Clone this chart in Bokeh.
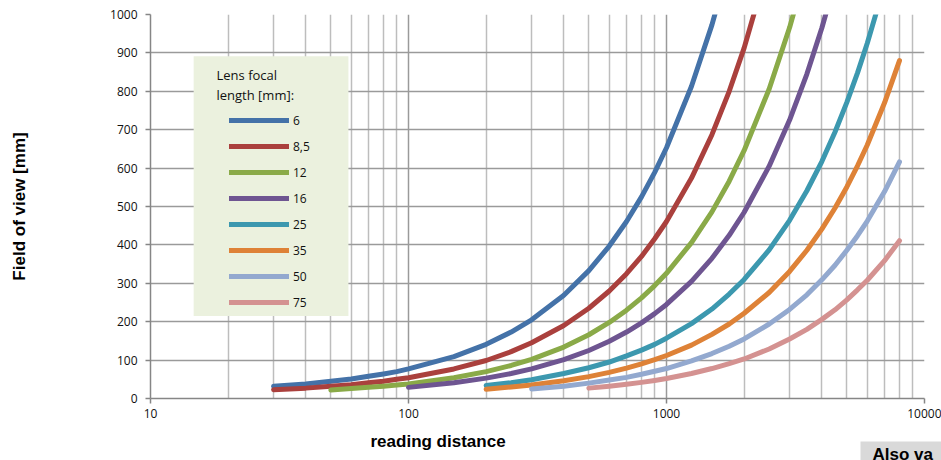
from bokeh.plotting import figure
from bokeh.models import (Range1d, FixedTicker, NumeralTickFormatter, Legend,
                          LegendItem, Label, BoxAnnotation, Title)
from bokeh.embed import file_html
from bokeh.resources import INLINE

# ---- data: reading distance [mm] -> field of view [mm]
lens_labels = ["6", "8,5", "12", "16", "25", "35", "50", "75"]
line_colors = ["#4472a8", "#aa403d", "#8aaa48", "#6e5591",
               "#3c98af", "#de8237", "#93a9cf", "#d49291"]

dist_6 = [30, 40, 50, 60, 70, 80, 90, 100, 150, 200, 250, 300, 400, 500, 600,
          700, 800, 900, 1000, 1250, 1500, 1750]
fov_6 = [32, 38, 45, 51, 58, 64, 70, 77, 109, 141, 173, 205, 269, 333, 397,
         461, 525, 589, 653, 813, 973, 1133]

dist_8_5 = [30, 40, 50, 60, 70, 80, 90, 100, 150, 200, 250, 300, 400, 500, 600,
            700, 800, 900, 1000, 1250, 1500, 1750, 2000, 2500]
fov_8_5 = [23, 27, 32, 36, 41, 45, 50, 54, 77, 99, 122, 145, 190, 235, 280,
           325, 370, 416, 461, 574, 687, 800, 913, 1138]

dist_12 = [50, 60, 70, 80, 90, 100, 150, 200, 250, 300, 400, 500, 600, 700,
           800, 900, 1000, 1250, 1500, 1750, 2000, 2500, 3000, 3500]
fov_12 = [22, 26, 29, 32, 35, 38, 54, 70, 86, 102, 134, 166, 198, 230,
          262, 294, 326, 406, 486, 566, 646, 806, 966, 1126]

dist_16 = [100, 150, 200, 250, 300, 400, 500, 600, 700, 800, 900, 1000, 1250,
           1500, 1750, 2000, 2500, 3000, 3500, 4000, 4500]
fov_16 = [29, 41, 53, 65, 77, 101, 125, 149, 173, 197, 221, 245, 305,
          365, 425, 485, 605, 725, 845, 965, 1085]

dist_25 = [200, 250, 300, 400, 500, 600, 700, 800, 900, 1000, 1250, 1500, 1750,
           2000, 2500, 3000, 3500, 4000, 4500, 5000, 5500, 6000, 7000]
fov_25 = [34, 41, 49, 65, 80, 95, 111, 126, 141, 157, 195, 233, 272,
          310, 387, 464, 541, 617, 694, 771, 848, 925, 1078]

dist_35 = [200, 250, 300, 400, 500, 600, 700, 800, 900, 1000, 1250, 1500, 1750,
           2000, 2500, 3000, 3500, 4000, 4500, 5000, 5500, 6000, 7000, 8000]
fov_35 = [24, 30, 35, 46, 57, 68, 79, 90, 101, 112, 139, 167, 194,
          222, 276, 331, 386, 441, 496, 551, 606, 660, 770, 880]

dist_50 = [300, 400, 500, 600, 700, 800, 900, 1000, 1250, 1500, 1750, 2000,
           2500, 3000, 3500, 4000, 4500, 5000, 5500, 6000, 7000, 8000]
fov_50 = [25, 32, 40, 48, 55, 63, 71, 78, 98, 117, 136, 155,
          194, 232, 270, 309, 347, 386, 424, 462, 539, 616]

dist_75 = [500, 600, 700, 800, 900, 1000, 1250, 1500, 1750, 2000, 2500, 3000,
           3500, 4000, 4500, 5000, 5500, 6000, 7000, 8000]
fov_75 = [27, 32, 37, 42, 47, 52, 65, 78, 91, 103, 129, 155,
          180, 206, 231, 257, 283, 308, 359, 411]

series = [(dist_6, fov_6), (dist_8_5, fov_8_5), (dist_12, fov_12),
          (dist_16, fov_16), (dist_25, fov_25), (dist_35, fov_35),
          (dist_50, fov_50), (dist_75, fov_75)]

x_major = [10, 100, 1000, 10000]
x_minor = [20, 30, 40, 50, 60, 70, 80, 90, 200, 300, 400, 500, 600, 700, 800,
           900, 2000, 3000, 4000, 5000, 6000, 7000, 8000, 9000]
y_ticks = [0, 100, 200, 300, 400, 500, 600, 700, 800, 900, 1000]

TICK_FONT = "Open Sans"
BOLD_FONT = "Liberation Sans"

p = figure(width=941, height=460, x_axis_type="log",
           x_range=Range1d(10, 10000), y_range=Range1d(0, 1000),
           output_backend="svg", toolbar_location=None,
           min_border_left=150, min_border_right=17, min_border_top=14,
           min_border_bottom=62)
p.outline_line_color = None
p.background_fill_color = "white"
p.border_fill_color = "white"

# axes
p.xaxis.ticker = FixedTicker(ticks=x_major, minor_ticks=x_minor)
p.xaxis.formatter = NumeralTickFormatter(format="0")
p.yaxis.ticker = FixedTicker(ticks=y_ticks)
for ax in (p.xaxis[0], p.yaxis[0]):
    ax.axis_line_color = "#868686"
    ax.axis_line_width = 1.5
    ax.major_tick_line_color = "#868686"
    ax.major_tick_line_width = 1.5
    ax.major_tick_out = 5
    ax.major_tick_in = 0
    ax.minor_tick_line_color = None
    ax.major_label_text_font = TICK_FONT
    ax.major_label_text_font_size = "12px"
    ax.major_label_text_color = "#111111"
p.yaxis.major_label_standoff = 8
p.xaxis.major_label_standoff = 5

p.yaxis.axis_label = "Field of view [mm]"
p.yaxis.axis_label_text_font = BOLD_FONT
p.yaxis.axis_label_text_font_style = "bold"
p.yaxis.axis_label_text_font_size = "17px"
p.yaxis.axis_label_text_color = "#000000"
p.yaxis.axis_label_standoff = 78

# grids
p.xgrid.grid_line_color = "#9a9a9a"
p.xgrid.grid_line_width = 1.5
p.xgrid.minor_grid_line_color = "#bdbdbd"
p.xgrid.minor_grid_line_width = 1.5
p.ygrid.grid_line_color = "#9a9a9a"
p.ygrid.grid_line_width = 1.5

# legend background box
box = BoxAnnotation(left=14.7, right=58.5, bottom=215, top=891,
                    fill_color="#ebf1de", fill_alpha=1.0, line_color=None)
p.add_layout(box)

renderers = []
for (d, f), col in zip(series, line_colors):
    r = p.line(d, f, line_color=col, line_width=5, line_cap="round",
               line_join="round")
    renderers.append(r)

items = [LegendItem(label=lab, renderers=[r]) for lab, r in zip(lens_labels, renderers)]
legend = Legend(items=items, location=(79, 86), orientation="vertical",
                glyph_width=60, glyph_height=20, label_height=20, spacing=6,
                label_standoff=4, padding=0, margin=0,
                border_line_color=None, background_fill_alpha=0,
                label_text_font=TICK_FONT, label_text_font_size="12px",
                label_text_color="#111111")
p.add_layout(legend)

for txt, yy in (("Lens focal", 323.5), ("length [mm]:", 304.0)):
    p.add_layout(Label(x=66, y=yy, x_units="screen", y_units="screen",
                       text=txt, text_font=TICK_FONT, text_font_size="13px",
                       text_color="#111111", text_baseline="middle",
                       text_align="left"))

# x axis title (placed off-centre as in the original)
x_title = Title(text="reading distance", align="left", offset=220,
                text_font=BOLD_FONT, text_font_style="bold",
                text_font_size="17px", text_color="#000000", standoff=18)
p.add_layout(x_title, "below")

# partly visible note box at bottom right
note = Title(text="Also va", align="left", offset=710, vertical_align="top",
             text_font=BOLD_FONT, text_font_style="bold",
             text_font_size="17px", text_color="#000000", standoff=-36,
             padding=dict(left=12, right=40, top=3, bottom=0),
             background_fill_color="#d9d9d9", background_fill_alpha=1.0)
p.add_layout(note, "below")

open("out.html", "w").write(file_html(p, INLINE))
